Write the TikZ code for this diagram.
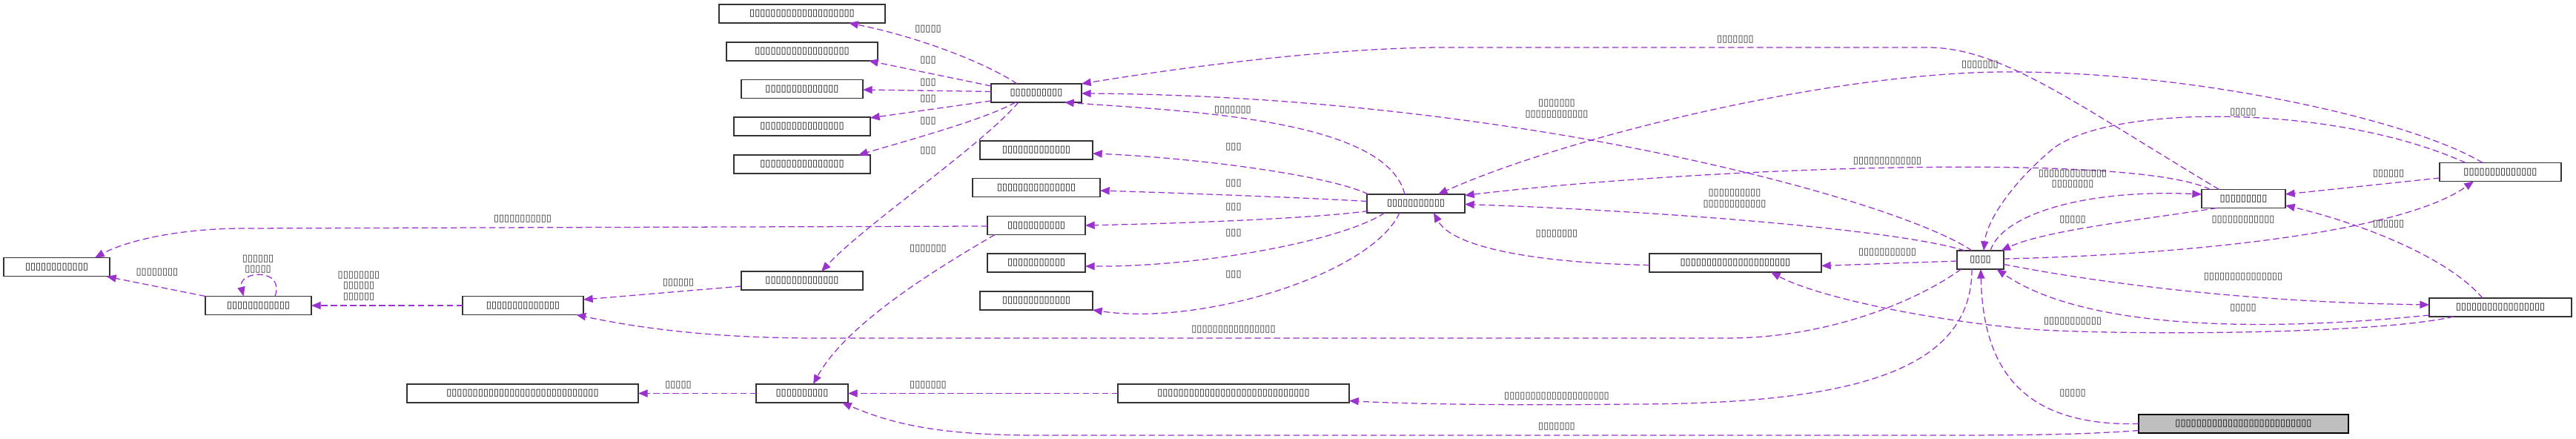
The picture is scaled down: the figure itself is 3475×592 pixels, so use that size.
\documentclass[tikz,border=0pt]{standalone}
\usepackage{fontspec}
\newfontfamily\tofufont{DejaVu Sans}
\usetikzlibrary{arrows.meta,calc}
\definecolor{purp}{HTML}{9A32CD}
\definecolor{grayfill}{HTML}{BFBFBF}
\newcommand\tfsize{\tofufont\fontsize{3.66pt}{4.13pt}\selectfont}
\begin{document}
\begin{tikzpicture}[x=0.01cm,y=-0.01cm,
  box/.style={draw=black!80,line width=0.38pt,fill=white,minimum height=0.25cm,inner sep=0pt,font=\tfsize},
  lbl/.style={inner sep=0pt,font=\tfsize,align=center,text=black!85},
  edge/.style={draw=purp,line width=0.36pt,dash pattern=on 2.4pt off 1.3pt,-{Triangle[length=3.6pt,width=2.9pt]}}]
\useasboundingbox (0,0) rectangle (3475,592);
% nodes
\node[box,minimum width=2.24cm] (top1) at (1082,18.5) {▯▯▯▯▯▯▯▯▯▯▯▯▯▯▯▯▯▯▯▯};
\node[box,minimum width=2.04cm] (top2) at (1082,69.5) {▯▯▯▯▯▯▯▯▯▯▯▯▯▯▯▯▯▯};
\node[box,minimum width=1.64cm] (top3) at (1082,120) {▯▯▯▯▯▯▯▯▯▯▯▯▯▯};
\node[box,minimum width=1.84cm] (top4) at (1082,170.5) {▯▯▯▯▯▯▯▯▯▯▯▯▯▯▯▯};
\node[box,minimum width=1.84cm] (top5) at (1082,221.5) {▯▯▯▯▯▯▯▯▯▯▯▯▯▯▯▯};
\node[box,minimum width=1.22cm] (hub1) at (1398,125.5) {▯▯▯▯▯▯▯▯▯▯};
\node[box,minimum width=1.52cm] (mid1) at (1398,202.5) {▯▯▯▯▯▯▯▯▯▯▯▯▯};
\node[box,minimum width=1.72cm] (mid2) at (1398,253) {▯▯▯▯▯▯▯▯▯▯▯▯▯▯▯};
\node[box,minimum width=1.32cm] (mid3) at (1398,304) {▯▯▯▯▯▯▯▯▯▯▯};
\node[box,minimum width=1.32cm] (mid4) at (1398,354.5) {▯▯▯▯▯▯▯▯▯▯▯};
\node[box,minimum width=1.52cm] (mid5) at (1398,405.5) {▯▯▯▯▯▯▯▯▯▯▯▯▯};
\node[box,minimum width=1.64cm] (mid6) at (1082,378.5) {▯▯▯▯▯▯▯▯▯▯▯▯▯▯};
\node[box,minimum width=1.32cm] (hub2) at (1910,274.5) {▯▯▯▯▯▯▯▯▯▯▯};
\node[box,minimum width=1.43cm] (left1) at (76.5,360) {▯▯▯▯▯▯▯▯▯▯▯▯};
\node[box,minimum width=1.43cm] (left2) at (348.5,412) {▯▯▯▯▯▯▯▯▯▯▯▯};
\node[box,minimum width=1.63cm] (left3) at (705.5,412) {▯▯▯▯▯▯▯▯▯▯▯▯▯▯};
\node[box,minimum width=3.12cm] (bot1) at (705,530.5) {▯▯▯▯▯▯▯▯▯▯▯▯▯▯▯▯▯▯▯▯▯▯▯▯▯▯▯▯▯};
\node[box,minimum width=1.24cm] (bot2) at (1082,530.5) {▯▯▯▯▯▯▯▯▯▯};
\node[box,minimum width=3.12cm] (bot3) at (1664,530.5) {▯▯▯▯▯▯▯▯▯▯▯▯▯▯▯▯▯▯▯▯▯▯▯▯▯▯▯▯▯};
\node[box,minimum width=2.32cm] (right1) at (2341,354.5) {▯▯▯▯▯▯▯▯▯▯▯▯▯▯▯▯▯▯▯▯▯};
\node[box,minimum width=0.63cm] (cnode) at (2671.5,350.5) {▯▯▯▯};
\node[box,minimum width=1.13cm] (right2) at (3026.5,268) {▯▯▯▯▯▯▯▯▯};
\node[box,minimum width=1.64cm] (right3) at (3373,232) {▯▯▯▯▯▯▯▯▯▯▯▯▯▯};
\node[box,minimum width=1.92cm] (right4) at (3373,414.5) {▯▯▯▯▯▯▯▯▯▯▯▯▯▯▯▯▯};
\node[box,minimum width=2.83cm,fill=grayfill,draw=black] (gray) at (3026.5,571.5) {▯▯▯▯▯▯▯▯▯▯▯▯▯▯▯▯▯▯▯▯▯▯▯▯▯▯};
% edges from hub1
\draw[edge] ($(hub1)+(-26,-12.5)$) .. controls (1330,85) and (1240,50) .. ($(top1)+(63,12.5)$);
\draw[edge] ($(hub1)+(-61,-9.5)$) -- ($(top2)+(90,12.5)$);
\draw[edge] ($(hub1)+(-61,-2)$) -- ($(top3)+(82,1)$);
\draw[edge] ($(hub1)+(-61,10.5)$) -- ($(top4)+(92,-11.5)$);
\draw[edge] ($(hub1)+(-28,12.5)$) .. controls (1330,160) and (1240,185) .. ($(top5)+(76,-12.5)$);
\draw[edge] ($(hub1)+(-24,12.5)$) .. controls (1320,200) and (1170,300) .. ($(mid6)+(26,-12.5)$);
% edges from hub2 to mids
\draw[edge] ($(hub2)+(-64,-12.5)$) .. controls (1790,235) and (1600,212) .. ($(mid1)+(76,4.5)$);
\draw[edge] ($(hub2)+(-66,-3)$) .. controls (1750,266) and (1580,260) .. ($(mid2)+(86,4)$);
\draw[edge] ($(hub2)+(-64,10)$) .. controls (1760,296) and (1560,302) .. ($(mid3)+(66,0)$);
\draw[edge] ($(hub2)+(-42,12.5)$) .. controls (1810,325) and (1620,360) .. ($(mid4)+(66,4.5)$);
\draw[edge] ($(hub2)+(-22,12.5)$) .. controls (1850,370) and (1620,440) .. ($(mid5)+(76,12.5)$);
% into hub1
\draw[edge] ($(hub2)+(-15,-12.5)$) .. controls (1870,160) and (1600,150) .. ($(hub1)+(38,12.5)$);
\draw[edge] ($(right2)+(-33,-12.5)$) .. controls (2800,140) and (2700,64) .. (2600,64) -- (1950,64) .. controls (1800,64) and (1600,90) .. ($(hub1)+(61,-12.5)$);
\draw[edge] ($(cnode)+(-11.5,-12.5)$) .. controls (2560,270) and (2050,130) .. ($(hub1)+(61,0.5)$);
% into hub2
\draw[edge] ($(right3)+(-24,-12.5)$) .. controls (3250,160) and (2950,95) .. (2700,97) .. controls (2450,100) and (2100,190) .. ($(hub2)+(30,-12.5)$);
\draw[edge] ($(right2)+(-45,-12.5)$) .. controls (2880,205) and (2300,225) .. ($(hub2)+(66,-11)$);
\draw[edge] ($(cnode)+(-21,-12.5)$) .. controls (2560,310) and (2250,285) .. ($(hub2)+(66,1)$);
\draw[edge] ($(right1)+(-116,3)$) .. controls (2080,355) and (1960,335) .. ($(hub2)+(24,12.5)$);
% center and right group
\draw[edge] ($(cnode)+(-31.5,1.5)$) -- ($(right1)+(116,4)$);
\draw[edge] ($(cnode)+(13.5,-12.5)$) .. controls (2700,290) and (2810,255) .. ($(right2)+(-56.5,-6)$);
\draw[edge] ($(right2)+(-36,12.5)$) .. controls (2900,295) and (2760,310) .. ($(cnode)+(28,-12.5)$);
\draw[edge] ($(right3)+(-47,-12.5)$) .. controls (3150,140) and (2850,140) .. (2770,200) .. controls (2710,250) and (2680,300) .. ($(cnode)+(4.5,-12.5)$);
\draw[edge] ($(cnode)+(31.5,-1.5)$) .. controls (2900,345) and (3230,320) .. ($(right3)+(-36,12.5)$);
\draw[edge] ($(cnode)+(31.5,6)$) .. controls (2850,385) and (3050,408) .. ($(right4)+(-96,-3.5)$);
\draw[edge] ($(right4)+(-96,10.5)$) .. controls (3080,445) and (2820,450) .. ($(cnode)+(22,12.5)$);
\draw[edge] ($(right4)+(-63,12.5)$) .. controls (3200,452) and (2850,452) .. (2740,444) .. controls (2600,432) and (2450,400) .. ($(right1)+(48,12.5)$);
\draw[edge] ($(right4)+(-24,-12.5)$) .. controls (3300,345) and (3180,300) .. ($(right2)+(56.5,9)$);
\draw[edge] ($(right3)+(-82,8)$) -- ($(right2)+(56.5,-6)$);
\draw[edge] ($(cnode)+(-26,12.5)$) .. controls (2580,410) and (2460,456) .. (2330,456) -- (1100,456) .. controls (950,456) and (850,440) .. ($(left3)+(72,12.5)$);
\draw[edge] ($(cnode)+(-11.5,12.5)$) .. controls (2660,500) and (2500,545) .. (2200,545) .. controls (2050,547) and (1900,545) .. ($(bot3)+(156,10)$);
\draw[edge] ($(gray)+(-141.5,0)$) .. controls (2730,575) and (2675,500) .. ($(cnode)+(0.5,12.5)$);
\draw[edge] ($(gray)+(-141.5,9)$) .. controls (2800,587) and (2700,587) .. (2600,587) -- (1400,587) .. controls (1260,587) and (1200,570) .. ($(bot2)+(54,12.5)$);
% left group
\draw[edge] ($(bot3)+(-156,0)$) -- ($(bot2)+(62,0)$);
\draw[edge] ($(bot2)+(-62,0)$) -- ($(bot1)+(156,0)$);
\draw[edge] ($(mid3)+(-56,12.5)$) .. controls (1250,370) and (1140,440) .. ($(bot2)+(15,-12.5)$);
\draw[edge] ($(mid3)+(-66,1)$) -- (330,308) .. controls (240,308) and (170,325) .. ($(left1)+(51.5,-12.5)$);
\draw[edge] ($(mid6)+(-82,7.5)$) -- ($(left3)+(81.5,-8)$);
\draw[edge] ($(left3)+(-81.5,0)$) -- ($(left2)+(71.5,0)$);
\draw[edge] ($(left2)+(22.5,-12.5)$) .. controls (385,360) and (320,365) .. ($(left2)+(-20,-12.5)$);
\draw[edge] ($(left2)+(-71.5,-12.5)$) -- ($(left1)+(67.5,13)$);
% labels
\node[lbl] (la1) at (1252,39) {▯▯▯▯▯};
\node[lbl] (la2) at (1252,81) {▯▯▯};
\node[lbl] (la3) at (1252,111) {▯▯▯};
\node[lbl] (la4) at (1252,133) {▯▯▯};
\node[lbl] (la5) at (1252,163) {▯▯▯};
\node[lbl] (la6) at (1252,203) {▯▯▯};
\node[lbl] (lb1) at (1664,198) {▯▯▯};
\node[lbl] (lb2) at (1664,247) {▯▯▯};
\node[lbl] (lb3) at (1664,279) {▯▯▯};
\node[lbl] (lb4) at (1664,314) {▯▯▯};
\node[lbl] (lb5) at (1664,370) {▯▯▯};
\node[lbl] (lc1) at (1663,148) {▯▯▯▯▯▯▯};
\node[lbl] (lc2) at (2341,53) {▯▯▯▯▯▯▯};
\node[lbl] (lc3) at (2100,146.5) {▯▯▯▯▯▯▯\\▯▯▯▯▯▯▯▯▯▯▯▯};
\node[lbl] (ld1) at (2671,87) {▯▯▯▯▯▯▯};
\node[lbl] (ld2) at (2546,217) {▯▯▯▯▯▯▯▯▯▯▯▯▯};
\node[lbl] (ld3) at (2340,267.5) {▯▯▯▯▯▯▯▯▯▯\\▯▯▯▯▯▯▯▯▯▯▯▯};
\node[lbl] (ld4) at (2100,315) {▯▯▯▯▯▯▯▯};
\node[lbl] (le1) at (2546,340) {▯▯▯▯▯▯▯▯▯▯▯};
\node[lbl] (le2) at (2796,241) {▯▯▯▯▯▯▯▯▯▯▯▯▯\\▯▯▯▯▯▯▯▯};
\node[lbl] (le3) at (2796,296) {▯▯▯▯▯};
\node[lbl] (le4) at (3026,151) {▯▯▯▯▯};
\node[lbl] (le5) at (3026,296) {▯▯▯▯▯▯▯▯▯▯▯▯};
\node[lbl] (le6) at (3026,373) {▯▯▯▯▯▯▯▯▯▯▯▯▯▯▯};
\node[lbl] (le7) at (3026,415) {▯▯▯▯▯};
\node[lbl] (le8) at (2796,433) {▯▯▯▯▯▯▯▯▯▯▯};
\node[lbl] (le9) at (3222,302) {▯▯▯▯▯▯};
\node[lbl] (le10) at (3222,234) {▯▯▯▯▯▯};
\node[lbl] (le11) at (1664,444) {▯▯▯▯▯▯▯▯▯▯▯▯▯▯▯▯};
\node[lbl] (le12) at (2100,534) {▯▯▯▯▯▯▯▯▯▯▯▯▯▯▯▯▯▯▯▯};
\node[lbl] (le13) at (2796,530) {▯▯▯▯▯};
\node[lbl] (le14) at (2100,575) {▯▯▯▯▯▯▯};
\node[lbl] (lf1) at (1252,519) {▯▯▯▯▯▯▯};
\node[lbl] (lf2) at (915,519) {▯▯▯▯▯};
\node[lbl] (lf3) at (1252,335) {▯▯▯▯▯▯▯};
\node[lbl] (lf4) at (705,295) {▯▯▯▯▯▯▯▯▯▯▯};
\node[lbl] (lf5) at (915,381) {▯▯▯▯▯▯};
\node[lbl] (lf6) at (484,385.5) {▯▯▯▯▯▯▯▯\\▯▯▯▯▯▯\\▯▯▯▯▯▯};
\node[lbl] (lf7) at (348,356) {▯▯▯▯▯▯\\▯▯▯▯▯};
\node[lbl] (lf8) at (212,367) {▯▯▯▯▯▯▯▯};
\end{tikzpicture}
\end{document}
